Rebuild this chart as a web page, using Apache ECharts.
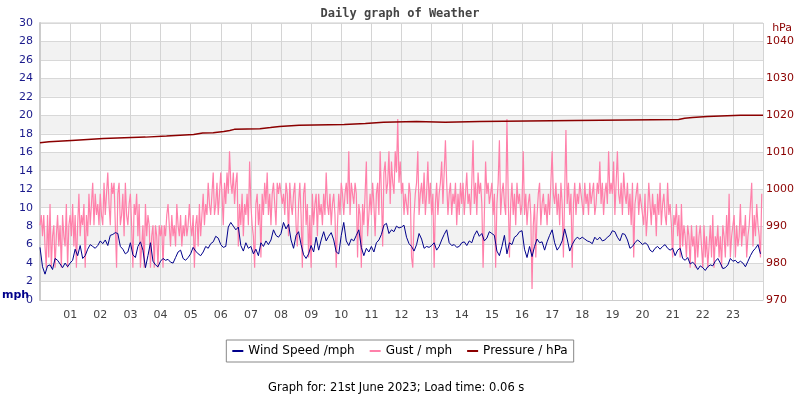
<!DOCTYPE html>
<html lang="en">
<head>
  <meta charset="UTF-8">
  <title>Daily graph of Weather</title>
  <script src="https://cdn.jsdelivr.net/npm/echarts@6.0.0/dist/echarts.min.js"></script>
  <style>
    html, body { margin: 0; padding: 0; background: #fff; }
    #chart { width: 800px; height: 400px; }
  </style>
</head>
<body>
  <div id="chart"></div>
  <script>
    // wind readings every 5 minutes from 00:00
    const windStepMinutes = 5;
    const windSpeed = [
      5.7, 3.6, 2.8, 3.7, 3.8, 3.3, 4.5, 4.3, 3.9, 3.5, 4.0, 3.6,
      4.0, 4.3, 5.5, 4.8, 5.9, 4.5, 4.8, 5.5, 6.0, 5.8, 5.6, 5.9,
      6.4, 6.1, 6.5, 5.9, 7.0, 7.1, 7.3, 7.2, 5.8, 5.5, 5.0, 5.2,
      6.2, 4.9, 4.6, 5.8, 6.3, 5.4, 3.5, 4.8, 6.2, 4.2, 3.8, 3.6,
      4.2, 4.5, 4.3, 4.4, 4.1, 4.0, 4.6, 5.2, 5.4, 4.5, 4.3, 4.6,
      5.0, 5.7, 5.3, 5.0, 4.8, 5.2, 5.8, 5.6, 6.1, 6.3, 6.9, 6.7,
      6.0, 5.7, 5.8, 7.9, 8.4, 8.0, 7.6, 7.9, 5.9, 5.3, 6.2, 5.6,
      5.8, 5.0, 5.5, 4.8, 6.2, 5.8, 6.4, 6.0, 6.5, 7.6, 7.0, 6.8,
      7.2, 8.4, 7.7, 8.2, 6.5, 5.6, 7.0, 7.4, 6.0, 4.9, 4.5, 5.0,
      5.9, 5.2, 6.8, 5.4, 6.5, 7.4, 6.4, 6.9, 7.3, 6.5, 5.2, 5.0,
      7.0, 8.4, 6.4, 5.9, 6.6, 6.4, 7.0, 7.6, 5.7, 4.8, 5.6, 5.2,
      5.8, 5.2, 6.2, 6.5, 7.1, 8.1, 8.3, 7.2, 7.6, 7.4, 8.0, 7.8,
      7.9, 8.1, 6.8, 6.1, 5.8, 5.3, 6.0, 7.2, 6.6, 5.6, 5.8, 5.7,
      5.9, 6.2, 5.4, 5.8, 6.5, 7.1, 7.6, 6.2, 5.9, 6.0, 5.7, 5.8,
      6.2, 6.3, 5.9, 6.4, 6.2, 7.0, 7.5, 6.9, 7.2, 6.4, 6.7, 7.4,
      7.2, 7.0, 5.3, 4.8, 5.8, 7.0, 5.0, 6.2, 6.0, 6.8, 7.0, 7.4,
      7.5, 5.5, 4.6, 5.8, 4.7, 5.8, 6.6, 6.2, 6.3, 5.4, 6.3, 7.0,
      7.6, 6.2, 5.4, 5.8, 6.4, 7.7, 6.6, 5.3, 6.0, 6.5, 6.8, 6.6,
      6.8, 6.6, 6.4, 6.3, 6.1, 6.8, 6.5, 6.8, 6.4, 6.5, 6.8, 7.0,
      7.5, 7.4, 6.8, 6.4, 7.2, 7.1, 6.5, 5.6, 5.8, 6.2, 6.5, 6.3,
      6.0, 6.2, 6.0, 5.4, 5.2, 5.6, 5.8, 5.5, 5.8, 6.0, 5.6, 5.4,
      5.6, 4.8, 5.4, 5.6, 4.5, 4.3, 4.6, 3.9, 4.1, 3.8, 3.3, 3.7,
      3.5, 3.2, 3.6, 3.8, 3.7, 4.2, 4.5, 4.0, 3.4, 3.5, 3.8, 4.5,
      4.2, 4.3, 4.0, 4.2, 4.0, 3.6, 4.2, 4.8, 5.3, 5.6, 6.0, 5.0
    ];
    // gust readings every 2.5 minutes from 00:00
    const gustStepMinutes = 2.5;
    const gust = [
      8.1, 9.2, 6.9, 9.2, 5.8, 3.5, 9.2, 4.6, 10.4, 3.5, 6.9, 8.1, 3.5, 6.9, 9.2, 5.8, 8.1, 3.5, 9.2, 6.9, 5.8, 10.4, 3.5, 8.1,
      9.2, 6.9, 10.4, 5.8, 9.2, 3.5, 8.1, 11.5, 6.9, 9.2, 8.1, 10.4, 3.5, 9.2, 6.9, 11.5, 8.1, 10.4, 12.7, 8.1, 11.5, 9.2, 10.4, 8.1,
      11.5, 9.2, 8.1, 12.7, 9.2, 11.5, 13.8, 10.4, 8.1, 12.7, 11.5, 12.7, 8.1, 3.5, 11.5, 12.7, 8.1, 9.2, 11.5, 6.9, 12.7, 9.2, 8.1, 10.4,
      11.5, 8.1, 3.5, 10.4, 9.2, 11.5, 6.9, 10.4, 3.5, 5.8, 8.1, 3.5, 10.4, 6.9, 9.2, 8.1, 3.5, 6.9, 8.1, 3.5, 8.1, 6.9, 3.5, 8.1,
      6.9, 8.1, 3.5, 8.1, 6.9, 9.2, 10.4, 8.1, 5.8, 9.2, 6.9, 8.1, 5.8, 10.4, 8.1, 6.9, 9.2, 5.8, 8.1, 6.9, 9.2, 6.9, 8.1, 10.4,
      8.1, 6.9, 9.2, 3.5, 8.1, 9.2, 5.8, 10.4, 6.9, 9.2, 11.5, 8.1, 10.4, 9.2, 12.7, 10.4, 9.2, 11.5, 13.8, 9.2, 10.4, 12.7, 9.2, 11.5,
      13.8, 11.5, 8.1, 12.7, 10.4, 13.8, 11.5, 16.1, 12.7, 11.5, 13.8, 10.4, 12.7, 13.8, 5.8, 10.4, 8.1, 11.5, 6.9, 10.4, 9.2, 11.5, 8.1, 15.0,
      10.4, 8.1, 6.9, 3.5, 10.4, 11.5, 8.1, 10.4, 4.6, 11.5, 9.2, 12.7, 10.4, 13.8, 9.2, 11.5, 8.1, 11.5, 12.7, 10.4, 8.1, 12.7, 11.5, 12.7,
      12.7, 10.4, 11.5, 9.2, 12.7, 11.5, 6.9, 12.7, 10.4, 9.2, 11.5, 12.7, 8.1, 5.8, 10.4, 12.7, 9.2, 3.5, 11.5, 12.7, 8.1, 10.4, 4.6, 9.2,
      3.5, 11.5, 8.1, 10.4, 11.5, 6.9, 11.5, 9.2, 10.4, 8.1, 11.5, 9.2, 13.8, 10.4, 9.2, 11.5, 8.1, 10.4, 11.5, 9.2, 3.5, 8.1, 11.5, 9.2,
      12.7, 11.5, 9.2, 11.5, 12.7, 10.4, 16.1, 9.2, 12.7, 11.5, 10.4, 12.7, 11.5, 4.6, 10.4, 9.2, 3.5, 10.4, 8.1, 11.5, 15.0, 6.9, 9.2, 11.5,
      9.2, 12.7, 10.4, 6.9, 11.5, 12.7, 9.2, 16.1, 11.5, 5.8, 13.8, 15.0, 11.5, 12.7, 16.1, 10.4, 15.0, 12.7, 11.5, 16.1, 13.8, 19.6, 12.7, 15.0,
      11.5, 12.7, 9.2, 11.5, 10.4, 9.2, 12.7, 11.5, 4.6, 3.5, 9.2, 11.5, 12.7, 16.1, 9.2, 11.5, 12.7, 10.4, 13.8, 9.2, 11.5, 15.0, 10.4, 12.7,
      9.2, 11.5, 3.5, 10.4, 12.7, 9.2, 11.5, 12.7, 15.0, 10.4, 13.8, 17.3, 12.7, 9.2, 11.5, 12.7, 9.2, 11.5, 10.4, 12.7, 8.1, 11.5, 9.2, 12.7,
      10.4, 12.7, 9.2, 11.5, 13.8, 10.4, 11.5, 9.2, 12.7, 17.3, 10.4, 12.7, 9.2, 13.8, 11.5, 12.7, 10.4, 3.5, 9.2, 15.0, 11.5, 12.7, 10.4, 11.5,
      12.7, 9.2, 11.5, 3.5, 10.4, 12.7, 17.3, 9.2, 11.5, 12.7, 10.4, 9.2, 19.6, 11.5, 4.6, 10.4, 12.7, 9.2, 11.5, 8.1, 12.7, 10.4, 11.5, 9.2,
      10.4, 16.1, 9.2, 11.5, 8.1, 10.4, 11.5, 9.2, 1.2, 8.1, 10.4, 4.6, 9.2, 11.5, 12.7, 8.1, 10.4, 11.5, 9.2, 10.4, 8.1, 11.5, 9.2, 12.7,
      16.1, 11.5, 10.4, 12.7, 9.2, 11.5, 8.1, 12.7, 10.4, 4.6, 11.5, 18.4, 10.4, 12.7, 9.2, 11.5, 3.5, 10.4, 12.7, 9.2, 11.5, 10.4, 12.7, 11.5,
      11.5, 9.2, 12.7, 10.4, 11.5, 9.2, 12.7, 10.4, 11.5, 12.7, 9.2, 10.4, 12.7, 11.5, 15.0, 10.4, 12.7, 9.2, 11.5, 12.7, 10.4, 16.1, 11.5, 12.7,
      11.5, 15.0, 9.2, 12.7, 16.1, 11.5, 10.4, 12.7, 9.2, 13.8, 11.5, 10.4, 12.7, 9.2, 11.5, 8.1, 12.7, 4.6, 10.4, 11.5, 12.7, 9.2, 11.5, 10.4,
      10.4, 8.1, 11.5, 6.9, 9.2, 12.7, 10.4, 8.1, 11.5, 9.2, 10.4, 6.9, 11.5, 9.2, 12.7, 8.1, 10.4, 11.5, 9.2, 8.1, 12.7, 9.2, 10.4, 8.1,
      4.6, 9.2, 8.1, 10.4, 6.9, 9.2, 4.6, 10.4, 5.8, 8.1, 6.9, 4.6, 8.1, 6.9, 3.5, 8.1, 5.8, 6.9, 3.5, 8.1, 4.6, 6.9, 8.1, 5.8,
      3.5, 8.1, 4.6, 6.9, 3.5, 5.8, 8.1, 4.6, 9.2, 3.5, 6.9, 5.8, 8.1, 4.6, 6.9, 3.5, 8.1, 6.9, 4.6, 9.2, 5.8, 11.5, 4.6, 6.9,
      6.9, 9.2, 4.6, 8.1, 5.8, 6.9, 10.4, 5.8, 8.1, 6.9, 9.2, 4.6, 6.9, 8.1, 10.4, 12.7, 5.8, 9.2, 6.9, 10.4, 8.1, 6.9, 4.6, 11.5
    ];
    // pressure changes: hour of change, new reading
    const pressureHours = [0, 0.3, 1.05, 2.1, 3.5, 4.2, 5.1, 5.4, 5.75, 6.1, 6.3, 6.45, 7.3, 7.65, 7.95, 8.6,
      10.1, 10.8, 11.4, 12.5, 13.45, 14.6, 17.75, 21.2, 21.4, 21.66, 22.15, 23.25, 24];
    const pressureHpa = [1012.6, 1012.85, 1013.2, 1013.7, 1014.1, 1014.4, 1014.8, 1015.2, 1015.3, 1015.6, 1015.9, 1016.2, 1016.4, 1016.7, 1017.0, 1017.3,
      1017.5, 1017.8, 1018.1, 1018.3, 1018.1, 1018.3, 1018.6, 1018.9, 1019.2, 1019.4, 1019.7, 1020.0, 1020.0];

    const seriesNames = ['Wind Speed /mph', 'Gust / mph', 'Pressure / hPa'];
    const seriesColors = ['#00008b', '#ff80aa', '#8b0000'];

    const toPairs = (arr, step) => arr.map((v, i) => [i * step / 60, v]);

    const chart = echarts.init(document.getElementById('chart'));
    chart.setOption({
      animation: false,
      title: {
        text: 'Daily graph of Weather',
        left: 'center',
        top: 3,
        textStyle: { fontFamily: 'DejaVu Sans Mono', fontWeight: 'bold', fontSize: 12, color: '#444' }
      },
      legend: {
        data: seriesNames.map(n => ({ name: n, icon: 'rect' })),
        top: 340,
        left: 'center',
        itemWidth: 11,
        itemHeight: 2,
        itemGap: 15,
        padding: [5, 6, 5, 6],
        borderColor: '#888',
        borderWidth: 1,
        textStyle: { fontFamily: 'DejaVu Sans', fontSize: 12, color: '#000' }
      },
      grid: {
        left: 40, right: 37, top: 23, bottom: 100,
        show: true, borderColor: '#ccc', borderWidth: 1
      },
      xAxis: {
        type: 'value',
        min: 0,
        max: 24,
        interval: 1,
        axisLine: { show: true, lineStyle: { color: '#ccc' } },
        axisTick: { show: false },
        axisLabel: {
          margin: 10,
          fontFamily: 'DejaVu Sans',
          fontSize: 11,
          color: '#444',
          formatter: v => (v === 0 || v === 24) ? '' : String(v).padStart(2, '0')
        },
        splitLine: { show: true, lineStyle: { color: '#d4d4d4' } }
      },
      yAxis: [
        {
          type: 'value',
          min: 0,
          max: 30,
          interval: 2,
          axisLine: { show: true, lineStyle: { color: '#ccc', width: 2 } },
          axisTick: { show: false },
          axisLabel: { margin: 7, fontFamily: 'DejaVu Sans', fontSize: 11, color: '#1a1a8c' },
          splitLine: { show: true, lineStyle: { color: '#d8d8d8' } },
          splitArea: { show: true, areaStyle: { color: ['#ffffff', '#f2f2f2'] } }
        },
        {
          type: 'value',
          min: 970,
          max: 1045,
          interval: 10,
          position: 'right',
          axisLine: { show: false },
          axisTick: { show: false },
          axisLabel: {
            margin: 3,
            fontFamily: 'DejaVu Sans',
            fontSize: 11,
            color: '#8b0000',
            formatter: v => v % 10 === 0 ? String(v) : ''
          },
          splitLine: { show: false }
        }
      ],
      graphic: [
        {
          type: 'text', left: 2, top: 290,
          style: { text: 'mph', font: 'bold 11px DejaVu Sans', fill: '#00008b' }
        },
        {
          type: 'text', right: 8, top: 23,
          style: { text: 'hPa', font: '11px DejaVu Sans', fill: '#8b0000' }
        },
        {
          type: 'text', left: 268, top: 382,
          style: { text: 'Graph for: 21st June 2023; Load time: 0.06 s', font: '11.5px DejaVu Sans', fill: '#000' }
        }
      ],
      series: [
        {
          name: seriesNames[1],
          type: 'line',
          yAxisIndex: 0,
          data: toPairs(gust, gustStepMinutes),
          showSymbol: false,
          color: seriesColors[1],
          lineStyle: { width: 1.2, color: seriesColors[1] },
          z: 2
        },
        {
          name: seriesNames[0],
          type: 'line',
          yAxisIndex: 0,
          data: toPairs(windSpeed, windStepMinutes),
          showSymbol: false,
          color: seriesColors[0],
          lineStyle: { width: 1, color: seriesColors[0] },
          z: 3
        },
        {
          name: seriesNames[2],
          type: 'line',
          yAxisIndex: 1,
          step: 'start',
          data: pressureHours.map((h, i) => [h, pressureHpa[i]]),
          showSymbol: false,
          color: seriesColors[2],
          lineStyle: { width: 1.5, color: seriesColors[2] },
          z: 4
        }
      ]
    });
  </script>
</body>
</html>
